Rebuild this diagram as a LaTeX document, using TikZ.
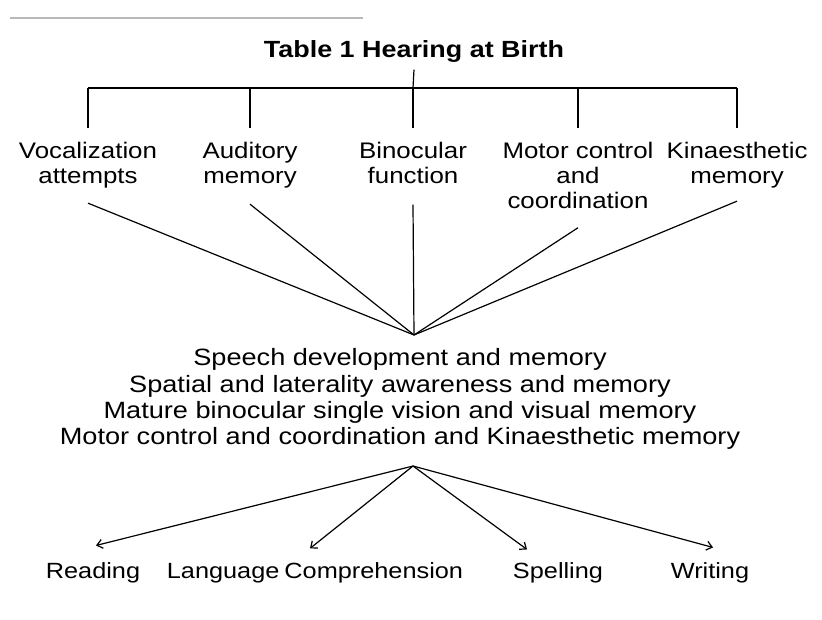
\documentclass[tikz,border=0pt]{standalone}
\usepackage{fontspec}
\setmainfont[FakeStretch=1.15]{Liberation Sans}
\usetikzlibrary{arrows.meta}

\tikzset{
	heading/.style={font=\bfseries\fontsize{23.4}{26}\selectfont, anchor=base, inner sep=0pt},
	branch/.style={font=\fontsize{22.5}{25}\selectfont, align=center, anchor=north, inner sep=0pt},
	summary/.style={font=\fontsize{23.6}{26.3}\selectfont, align=center, anchor=north, inner sep=0pt},
	outcome/.style={font=\fontsize{22}{25}\selectfont, anchor=base, inner sep=0pt},
	arrowline/.style={-{Straight Barb[length=5.5pt,width=9pt]}}
}

\begin{document}
\begin{tikzpicture}[x=1pt, y=-1pt, line width=1.2pt]
	\def \bary{88}
	\def \drop{14pt}
	\useasboundingbox (0,0) rectangle (822,620);
	\draw[gray!55, line width=1.2pt] (10,18) -- (363,18); % scan edge
	% heading and the five branches
	\node[heading] (title) at (414,58) {Table 1 Hearing at Birth};
	\coordinate (bar) at (413,\bary);
	\draw ([yshift=-6pt]title.south) -- (bar);
	\node[branch] (voc) at (88,142) {Vocalization\\attempts};
	\node[branch] (aud) at (250,142) {Auditory\\memory};
	\node[branch] (bino) at (413,142) {Binocular\\function};
	\node[branch] (motor) at (578,142) {Motor control\\and\\coordination};
	\node[branch] (kin) at (737,142) {Kinaesthetic\\memory};
	\draw (voc.north |- bar) -- (kin.north |- bar);
	\draw (voc.north |- bar) -- ([yshift=\drop]voc.north)
		(aud.north |- bar) -- ([yshift=\drop]aud.north)
		(bar) -- ([yshift=\drop]bino.north)
		(motor.north |- bar) -- ([yshift=\drop]motor.north)
		(kin.north |- bar) -- ([yshift=\drop]kin.north);
	% everything meets here
	\coordinate (fan) at (414,335);
	\draw ([yshift=-14pt]voc.south) -- (fan);
	\draw ([yshift=-15pt]aud.south) -- (fan);
	\draw ([yshift=-20pt]bino.south) -- (fan);
	\draw ([yshift=-18pt]motor.south) -- (fan);
	\draw ([yshift=-12pt]kin.south) -- (fan);
	\node[summary] (mid) at (400,348) {Speech development and memory\\Spatial and laterality awareness and memory\\Mature binocular single vision and visual memory\\Motor control and coordination and Kinaesthetic memory};
	% outcomes
	\coordinate (hub) at (413,466);
	\node[outcome] (read) at (93,578) {Reading};
	\node[outcome] (lang) at (315,578) {Language\hspace{-2pt} Comprehension};
	\node[outcome] (spell) at (558,578) {Spelling};
	\node[outcome] (write) at (710,578) {Writing};
	\draw[arrowline] (hub) -- ([xshift=3pt,yshift=16pt]read.north);
	\draw[arrowline] (hub) -- ([xshift=-5pt,yshift=13pt]lang.north);
	\draw[arrowline] (hub) -- ([xshift=-31pt,yshift=12pt]spell.north);
	\draw[arrowline] (hub) -- ([xshift=3pt,yshift=14pt]write.north);
\end{tikzpicture}
\end{document}
